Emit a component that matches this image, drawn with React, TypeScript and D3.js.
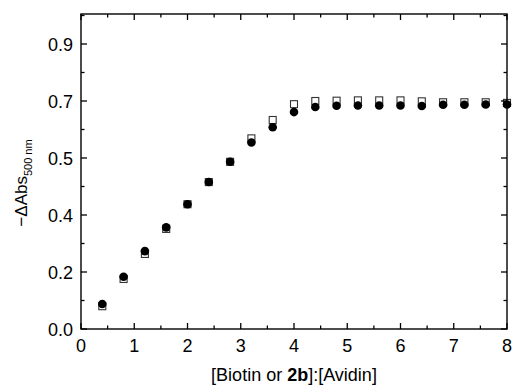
import React from "react";
import * as d3 from "d3";

const ratios = [0.4, 0.8, 1.2, 1.6, 2.0, 2.4, 2.8, 3.2, 3.6, 4.0, 4.4, 4.8, 5.2, 5.6, 6.0, 6.4, 6.8, 7.2, 7.6, 8.0];
const biotinValues = [0.072, 0.158, 0.237, 0.316, 0.394, 0.464, 0.528, 0.602, 0.660, 0.710, 0.720, 0.721, 0.722, 0.722, 0.722, 0.719, 0.716, 0.716, 0.716, 0.714];
const compoundValues = [0.079, 0.165, 0.246, 0.321, 0.394, 0.464, 0.528, 0.589, 0.637, 0.685, 0.701, 0.705, 0.706, 0.706, 0.706, 0.704, 0.708, 0.708, 0.709, 0.709];
const xTicks = [0, 1, 2, 3, 4, 5, 6, 7, 8];
const xMinorTicks = [0.5, 1.5, 2.5, 3.5, 4.5, 5.5, 6.5, 7.5];
const yTicks = [0, 0.18, 0.36, 0.54, 0.72, 0.9];
const yMinorTicks = [0.09, 0.27, 0.45, 0.63, 0.81, 0.99];

export default function App() {
  const W = 512, H = 392;
  const left = 81, right = 507, top = 14, bottom = 329;
  const x = d3.scaleLinear().domain([0, 8]).range([left, right]);
  const y = d3.scaleLinear().domain([0, 0.9]).range([bottom, 44]);
  const font = "Liberation Sans, Arial, sans-serif";
  const fs = 18;
  const majorLen = 6, minorLen = 3.5;
  const sq = 7;
  return (
    <svg width={W} height={H} style={{ position: "absolute", left: 0, top: 0 }} fontFamily={font}>
      <rect x={0} y={0} width={W} height={H} fill="#fff" />
      {ratios.map((r, i) => (
        <rect key={"s" + i} x={x(r) - sq / 2} y={y(biotinValues[i]) - sq / 2} width={sq} height={sq}
          fill="#fff" stroke="#333" strokeWidth={1.1} />
      ))}
      {ratios.map((r, i) => (
        <circle key={"c" + i} cx={x(r)} cy={y(compoundValues[i])} r={4.3} fill="#000" />
      ))}
      <rect x={left} y={top} width={right - left} height={bottom - top} fill="none" stroke="#000" strokeWidth={1.4} />
      {xTicks.map((t) => (
        <g key={"xt" + t}>
          <line x1={x(t)} x2={x(t)} y1={bottom} y2={bottom - majorLen} stroke="#000" strokeWidth={1.3} />
          <line x1={x(t)} x2={x(t)} y1={top} y2={top + majorLen} stroke="#000" strokeWidth={1.3} />
          <text x={x(t)} y={bottom + 23} textAnchor="middle" fontSize={fs}>{t}</text>
        </g>
      ))}
      {xMinorTicks.map((t) => (
        <g key={"xm" + t}>
          <line x1={x(t)} x2={x(t)} y1={bottom} y2={bottom - minorLen} stroke="#000" strokeWidth={1.3} />
          <line x1={x(t)} x2={x(t)} y1={top} y2={top + minorLen} stroke="#000" strokeWidth={1.3} />
        </g>
      ))}
      {yTicks.map((t) => (
        <g key={"yt" + t}>
          <line x1={left} x2={left + majorLen} y1={y(t)} y2={y(t)} stroke="#000" strokeWidth={1.3} />
          <line x1={right} x2={right - majorLen} y1={y(t)} y2={y(t)} stroke="#000" strokeWidth={1.3} />
          <text x={left - 8} y={y(t) + 6.5} textAnchor="end" fontSize={fs}>{d3.format(".1f")(t)}</text>
        </g>
      ))}
      {yMinorTicks.map((t) => (
        <g key={"ym" + t}>
          <line x1={left} x2={left + minorLen} y1={y(t)} y2={y(t)} stroke="#000" strokeWidth={1.3} />
          <line x1={right} x2={right - minorLen} y1={y(t)} y2={y(t)} stroke="#000" strokeWidth={1.3} />
        </g>
      ))}
      <text x={(left + right) / 2} y={381} textAnchor="middle" fontSize={fs}>
        [Biotin or <tspan fontWeight="bold">2b</tspan>]:[Avidin]
      </text>
      <text transform="translate(27,183) rotate(-90)" textAnchor="middle" fontSize={17}>
        −ΔAbs<tspan fontSize={11} dy={5}>500 nm</tspan>
      </text>
    </svg>
  );
}
